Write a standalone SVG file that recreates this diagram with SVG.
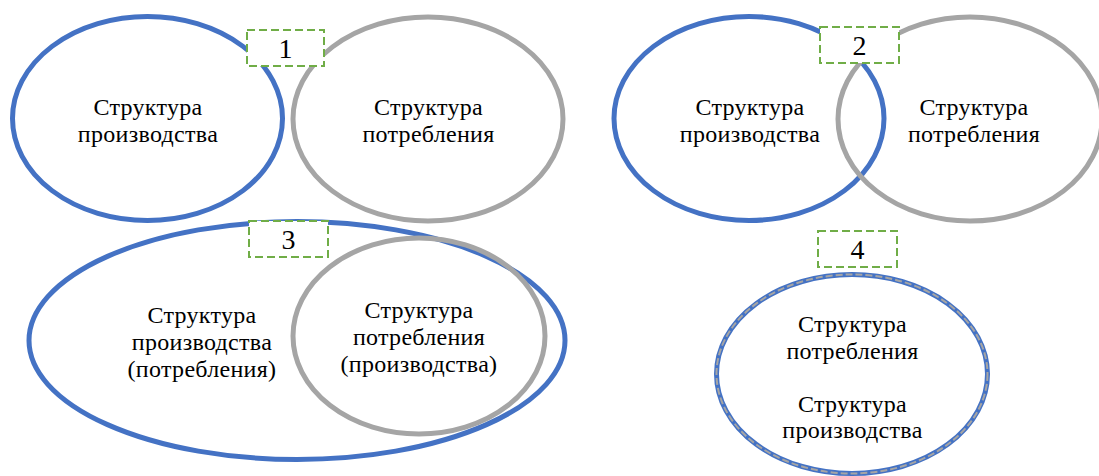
<svg xmlns="http://www.w3.org/2000/svg" width="1099" height="476" viewBox="0 0 1099 476">
<style>
.bg{fill:#ffffff}
.blue{fill:none;stroke:#4472C4;stroke-width:5}
.gray{fill:none;stroke:#A5A5A5;stroke-width:5}
.gdash{fill:none;stroke:#A5A5A5;stroke-width:2;stroke-dasharray:7 3}
.box{fill:#ffffff;stroke:#70AD47;stroke-width:2;stroke-dasharray:8 4}
.t{font-family:"Liberation Serif","Times New Roman","DejaVu Serif",serif;font-size:24px;letter-spacing:0.3px;fill:#000000;text-anchor:middle}
.n{font-family:"Liberation Serif","Times New Roman","DejaVu Serif",serif;font-size:28px;fill:#000000;text-anchor:middle}
</style>
<rect class="bg" x="0" y="0" width="1099" height="476"/>
<g id="panel1">
  <g id="p1-production">
    <ellipse class="blue" cx="147.5" cy="118.5" rx="135" ry="102"/>
    <text class="t" x="148" y="115">Структура</text>
    <text class="t" x="148" y="142">производства</text>
  </g>
  <g id="p1-consumption">
    <ellipse class="gray" cx="428" cy="119" rx="135" ry="102"/>
    <text class="t" x="428.5" y="115">Структура</text>
    <text class="t" x="428.5" y="142">потребления</text>
  </g>
  <g id="label1">
    <rect class="box" x="247" y="30" width="77" height="36"/>
    <text class="n" x="285.5" y="58">1</text>
  </g>
</g>
<g id="panel2">
  <g id="p2-production">
    <ellipse class="blue" cx="749" cy="118.5" rx="135" ry="102"/>
    <text class="t" x="750" y="115">Структура</text>
    <text class="t" x="750" y="142">производства</text>
  </g>
  <g id="p2-consumption">
    <ellipse class="gray" cx="970" cy="119" rx="132" ry="102"/>
    <text class="t" x="974" y="115">Структура</text>
    <text class="t" x="974" y="142">потребления</text>
  </g>
  <g id="label2">
    <rect class="box" x="820" y="27" width="79" height="36"/>
    <text class="n" x="859.5" y="55">2</text>
  </g>
</g>
<g id="panel3">
  <g id="p3-production">
    <ellipse class="blue" cx="297" cy="340.5" rx="268" ry="119"/>
    <text class="t" x="202" y="323">Структура</text>
    <text class="t" x="202" y="350">производства</text>
    <text class="t" x="202" y="377">(потребления)</text>
  </g>
  <g id="p3-consumption">
    <ellipse class="gray" cx="419" cy="336" rx="126" ry="98"/>
    <text class="t" x="419" y="318">Структура</text>
    <text class="t" x="419" y="345">потребления</text>
    <text class="t" x="419" y="372">(производства)</text>
  </g>
  <g id="label3">
    <rect class="box" x="249" y="221" width="79" height="36"/>
    <text class="n" x="288.5" y="249">3</text>
  </g>
</g>
<g id="panel4">
  <g id="p4-both">
    <ellipse class="blue" cx="852" cy="374" rx="135.5" ry="99.5"/>
    <ellipse class="gdash" cx="852" cy="374" rx="135.5" ry="99.5"/>
    <text class="t" x="852.5" y="332">Структура</text>
    <text class="t" x="852.5" y="359">потребления</text>
    <text class="t" x="852.5" y="412">Структура</text>
    <text class="t" x="852.5" y="438">производства</text>
  </g>
  <g id="label4">
    <rect class="box" x="818" y="231" width="79" height="36"/>
    <text class="n" x="857.5" y="259">4</text>
  </g>
</g>
<g id="connectors"></g>
</svg>
